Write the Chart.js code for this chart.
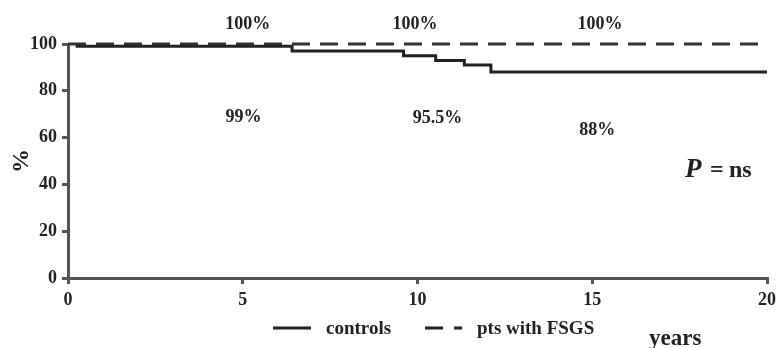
<!DOCTYPE html>
<html>
<head>
<meta charset="utf-8">
<script src="https://cdn.jsdelivr.net/npm/chart.js@4"></script>
<style>
html,body{margin:0;padding:0;background:#fff;}
#wrap{width:776px;height:348px;position:relative;}
</style>
</head>
<body>
<div id="wrap"><canvas id="c" width="776" height="348"></canvas></div>
<script>
// Kaplan-Meier style survival (%)
const controlYears = [0.22, 6.41, 9.6, 10.52, 11.34, 12.1, 20];
const controlValues = [99, 97, 95, 93, 91, 88, 88];
const fsgsYears = [0, 20];
const fsgsValues = [100, 100];
const xTicks = [0, 5, 10, 15, 20];
const yTicks = [0, 20, 40, 60, 80, 100];
const seriesNames = ['controls', 'pts with FSGS'];
// annotation labels
const topLabels = ['100%', '100%', '100%'];
const topLabelX = [5.14, 9.93, 15.22];
const bottomLabels = ['99%', '95.5%', '88%'];
const bottomLabelX = [5.02, 10.57, 15.14];
const bottomLabelY = [68.8, 68.4, 63.3];

const ink = '#222';
const axisGray = '#555';
const serif = '"Liberation Serif", "DejaVu Serif", serif';

const toPts = (xs, ys) => xs.map((x, i) => ({x, y: ys[i]}));

const annot = {
  id: 'annot',
  afterDraw(chart) {
    const ctx = chart.ctx, sx = chart.scales.x, sy = chart.scales.y;
    ctx.save();
    ctx.fillStyle = ink;
    ctx.textAlign = 'center';
    ctx.textBaseline = 'middle';
    ctx.font = 'bold 18px ' + serif;
    topLabels.forEach((t, i) => ctx.fillText(t, sx.getPixelForValue(topLabelX[i]), sy.getPixelForValue(108.6)));
    bottomLabels.forEach((t, i) => ctx.fillText(t, sx.getPixelForValue(bottomLabelX[i]), sy.getPixelForValue(bottomLabelY[i])));
    // P = ns
    const py = sy.getPixelForValue(46);
    ctx.textAlign = 'left';
    ctx.font = 'italic bold 27px ' + serif;
    ctx.fillText('P', 685, py);
    ctx.font = 'bold 24px ' + serif;
    ctx.fillText('=', 710, py);
    ctx.fillText('ns', 729, py);
    // legend
    ctx.strokeStyle = ink;
    ctx.lineWidth = 3;
    ctx.beginPath(); ctx.moveTo(273, 328); ctx.lineTo(311, 328); ctx.stroke();
    ctx.setLineDash([18, 11]);
    ctx.beginPath(); ctx.moveTo(425, 328); ctx.lineTo(462, 328); ctx.stroke();
    ctx.setLineDash([]);
    ctx.font = 'bold 19px ' + serif;
    ctx.fillText(seriesNames[0], 326, 329);
    ctx.fillText(seriesNames[1], 477, 329);
    ctx.font = 'bold 23px ' + serif;
    ctx.fillText('years', 649, 339);
    // y title
    ctx.translate(22, 161);
    ctx.rotate(-Math.PI / 2);
    ctx.textAlign = 'center';
    ctx.font = 'bold 24px ' + serif;
    ctx.fillText('%', 0, 0);
    ctx.restore();
  }
};

new Chart(document.getElementById('c'), {
  type: 'line',
  data: {
    datasets: [
      {label: seriesNames[0], data: toPts(controlYears, controlValues), stepped: true,
       borderColor: ink, borderWidth: 3, pointRadius: 0, fill: false, clip: false},
      {label: seriesNames[1], data: toPts(fsgsYears, fsgsValues),
       borderColor: '#333', borderWidth: 3, borderDash: [18, 10], pointRadius: 0, fill: false, clip: false}
    ]
  },
  options: {
    responsive: false,
    animation: false,
    layout: {padding: {top: 44, right: 9, left: 0, bottom: 0}},
    plugins: {legend: {display: false}, tooltip: {enabled: false}},
    scales: {
      x: {
        type: 'linear', min: 0, max: 20,
        afterBuildTicks: s => { s.ticks = xTicks.map(v => ({value: v})); },
        afterFit: s => { s.height = 70; s.paddingLeft = 0; s.paddingRight = 0; },
        grid: {drawOnChartArea: false, drawTicks: true, tickLength: 6, color: axisGray, lineWidth: 3},
        border: {display: true, color: axisGray, width: 3},
        ticks: {color: ink, padding: 6, font: {family: serif, size: 18, weight: 'bold'}, maxRotation: 0}
      },
      y: {
        type: 'linear', min: 0, max: 100,
        afterBuildTicks: s => { s.ticks = yTicks.map(v => ({value: v})); },
        afterFit: s => { s.width = 68; s.paddingTop = 0; s.paddingBottom = 0; },
        grid: {drawOnChartArea: false, drawTicks: true, tickLength: 6, color: axisGray, lineWidth: 3},
        border: {display: true, color: axisGray, width: 3},
        ticks: {color: ink, padding: 5, font: {family: serif, size: 18, weight: 'bold'}}
      }
    }
  },
  plugins: [annot]
});
</script>
</body>
</html>
